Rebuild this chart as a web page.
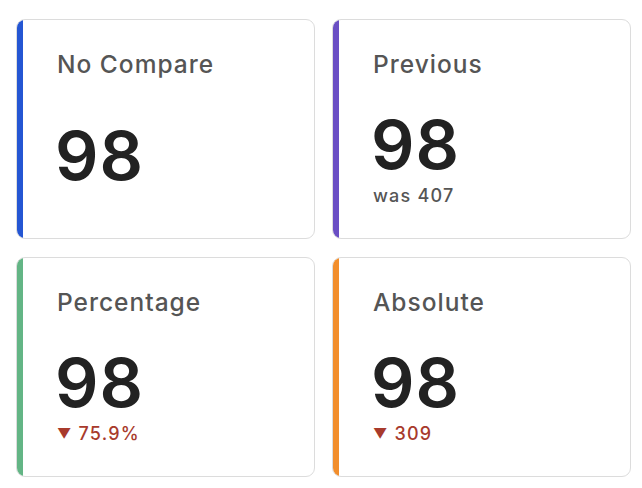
<!DOCTYPE html>
<html><head><meta charset="utf-8">
<script src="https://cdn.jsdelivr.net/npm/chart.js@4"></script>
<style>
body{margin:0;width:642px;height:488px;background:#fff;font-family:Inter,"Noto Sans",sans-serif;position:relative;overflow:hidden}
.card{position:absolute;width:299px;height:220px;box-sizing:border-box;border:1.5px solid #dcdcdc;border-radius:9px;background:#fff;overflow:hidden}
.bar{position:absolute;left:-1px;top:-1px;bottom:-1px;width:7px}
.t{position:absolute;left:40px;top:29px;font-size:24.5px;color:#555;font-weight:500;letter-spacing:1px}
.n{position:absolute;left:38px;font-size:68px;font-weight:600;color:#222;line-height:1;letter-spacing:1px}
.s{position:absolute;left:40px;font-size:18px;font-weight:500;letter-spacing:1.2px}
.tri{font-size:14px;position:relative;top:-1px}
</style></head><body>
<script>
const titles=["No Compare","Previous","Percentage","Absolute"];
const values=[98,98,98,98];
const compareLabels=["","was 407","75.9%","309"];
const compareArrows=["","","▼","▼"];
const colors=["#2456d3","#6a4fc4","#63b585","#f28e2c"];
const subColors=["#555","#555","#a83a2c","#a83a2c"];
const pos=[[16,19],[332,19],[16,257],[332,257]];
titles.forEach((t,i)=>{
  const c=document.createElement('div');c.className='card';
  c.style.left=pos[i][0]+'px';c.style.top=pos[i][1]+'px';
  const has=compareLabels[i]!=="";
  const arrow=compareArrows[i]?`<span class="tri">${compareArrows[i]}</span> `:'';
  c.innerHTML=`<div class="bar" style="background:${colors[i]}"></div><div class="t">${t}</div>
  <div class="n" style="top:${has?90:101}px">${values[i]}</div>
  ${has?`<div class="s" style="top:165px;color:${subColors[i]}">${arrow}${compareLabels[i]}</div>`:''}`;
  document.body.appendChild(c);
});
</script>
</body></html>
